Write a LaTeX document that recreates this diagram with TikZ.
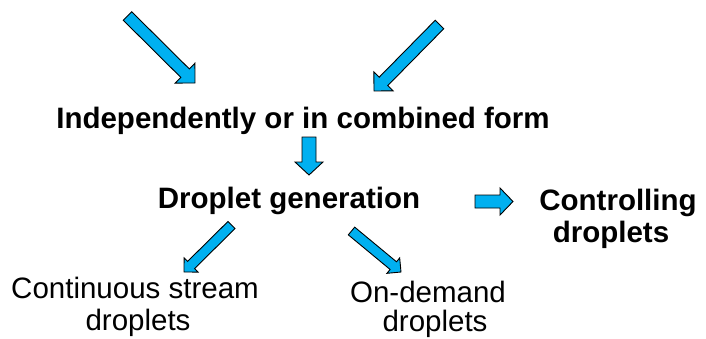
\documentclass[tikz,border=0pt]{standalone}
\usepackage{fontspec}
\setmainfont{Liberation Sans}
\usetikzlibrary{calc}

\definecolor{arrowblue}{RGB}{0,176,240}

\tikzset{
  blockarrow/.style={draw=black, line width=0.9pt, fill=arrowblue, line join=miter},
  boldlabel/.style={font=\fontsize{29.5}{33}\selectfont\bfseries, inner sep=0pt, anchor=base},
  plainlabel/.style={font=\fontsize{29.5}{33}\selectfont, inner sep=0pt, anchor=base}
}

% \blockarrow{name}{tail}{tip}{shaft half width}{head half width}{head length}
\newcommand\blockarrow[6]{%
  \coordinate (#1-tail) at #2;
  \coordinate (#1-tip) at #3;
  \coordinate (#1-base) at ($(#1-tip)!#6!(#1-tail)$);
  \draw[blockarrow]
    ($(#1-tail)!#4!90:(#1-tip)$) --
    ($(#1-base)!#4!90:(#1-tip)$) --
    ($(#1-base)!#5!90:(#1-tip)$) --
    (#1-tip) --
    ($(#1-base)!#5!-90:(#1-tip)$) --
    ($(#1-base)!#4!-90:(#1-tip)$) --
    ($(#1-tail)!#4!-90:(#1-tip)$) -- cycle;
}

\begin{document}
\begin{tikzpicture}[x=1pt, y=-1pt]
  \useasboundingbox (0,0) rectangle (706,338);

  % two inputs converging on the combined form
  \blockarrow{inleft}{(127.5,16)}{(195,83)}{6pt}{14pt}{14pt}
  \blockarrow{inright}{(439.5,24.5)}{(374,91)}{6pt}{13.5pt}{13.5pt}

  \node[boldlabel] (combined) at (303,128) {Independently or in combined form};

  \blockarrow{down}{(309,137)}{(309,175)}{7pt}{14pt}{13pt}

  \node[boldlabel] (generation) at (289,208) {Droplet generation};

  \blockarrow{right}{(475,201.5)}{(513,201.5)}{6.5pt}{13.5pt}{13pt}

  \node[boldlabel] (control1) at (618,210) {Controlling};
  \node[boldlabel] (control2) at (611,242) {droplets};

  % the two kinds of droplet generation
  \blockarrow{outleft}{(231.5,225)}{(184,272)}{5pt}{10pt}{10pt}
  \blockarrow{outright}{(351.5,231)}{(401,272)}{5pt}{10pt}{10pt}

  \node[plainlabel] (cont1) at (135,298) {Continuous stream};
  \node[plainlabel] (cont2) at (138,330) {droplets};

  \node[plainlabel] (demand1) at (428,302) {On-demand};
  \node[plainlabel] (demand2) at (435,331) {droplets};
\end{tikzpicture}
\end{document}
